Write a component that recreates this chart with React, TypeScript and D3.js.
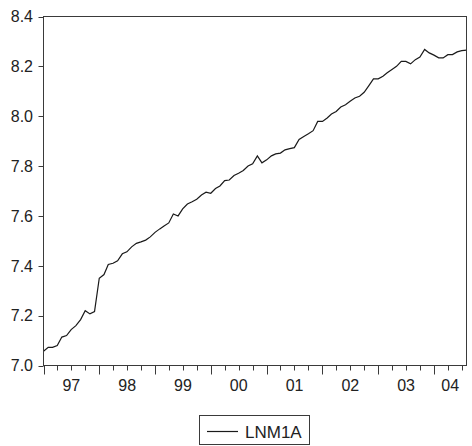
import React from "react";
import * as d3 from "d3";

const startYear = 1997;
const startMonth = 0;
const seriesName = "LNM1A";
const lnm1a = [
  7.057, 7.073, 7.073, 7.080, 7.114, 7.120, 7.144, 7.160, 7.184, 7.220, 7.207, 7.216,
  7.350, 7.365, 7.405, 7.410, 7.420, 7.448, 7.456, 7.476, 7.490, 7.496, 7.503, 7.516,
  7.534, 7.548, 7.560, 7.572, 7.608, 7.600, 7.628, 7.648, 7.657, 7.667, 7.684, 7.695,
  7.691, 7.710, 7.720, 7.742, 7.744, 7.762, 7.771, 7.782, 7.800, 7.809, 7.841, 7.813,
  7.825, 7.841, 7.849, 7.852, 7.865, 7.870, 7.874, 7.907, 7.919, 7.930, 7.942, 7.979,
  7.979, 7.993, 8.009, 8.019, 8.037, 8.046, 8.060, 8.073, 8.080, 8.096, 8.123, 8.150,
  8.150, 8.160, 8.174, 8.187, 8.200, 8.220, 8.220, 8.210, 8.227, 8.237, 8.268, 8.254,
  8.245, 8.234, 8.234, 8.247, 8.247, 8.258, 8.263, 8.265,
];
const yTicks = [7.0, 7.2, 7.4, 7.6, 7.8, 8.0, 8.2, 8.4];
const yearLabels = ["97", "98", "99", "00", "01", "02", "03", "04"];

const W = 472;
const H = 446;
const L = 43.5, R = 466.5, T = 16.5, B = 365.5;
const font = "'Liberation Sans', Arial, sans-serif";

export default function App() {
  const dates = lnm1a.map((_, i) => new Date(startYear, startMonth + i, 1));
  const x = d3.scaleTime().domain([dates[0], dates[dates.length - 1]]).range([L, R]);
  const y = d3.scaleLinear().domain([7.0, 8.4]).range([B, T]);
  const line = d3
    .line<number>()
    .x((_, i) => x(dates[i]))
    .y((d) => y(d));

  const end = dates[dates.length - 1];
  const quarters = d3.timeMonth.every(3)!.range(dates[0], d3.timeMonth.offset(end, 1));
  const years = d3.timeYear.range(dates[0], d3.timeMonth.offset(end, 1));

  return (
    <svg
      width={W}
      height={H}
      style={{ position: "absolute", left: 0, top: 0, background: "#fff" }}
      fontFamily={font}
    >
      <rect x={0} y={0} width={W} height={H} fill="#fff" />
      <path d={line(lnm1a) || ""} fill="none" stroke="#1a1a1a" strokeWidth={1.2} />
      <rect x={L} y={T} width={R - L} height={B - T} fill="none" stroke="#3a3a3a" strokeWidth={1} />
      {yTicks.map((t) => (
        <g key={t}>
          <line x1={L - 5} x2={L} y1={Math.round(y(t)) + 0.5} y2={Math.round(y(t)) + 0.5} stroke="#3a3a3a" />
          <text x={33} y={y(t)} dy="0.36em" textAnchor="end" fontSize={16} fill="#222">
            {t.toFixed(1)}
          </text>
        </g>
      ))}
      {quarters.map((q, i) => {
        const isYear = q.getMonth() === 0;
        const xx = Math.round(x(q)) + 0.5;
        return (
          <line key={i} x1={xx} x2={xx} y1={B} y2={B + (isYear ? 9 : 5)} stroke="#3a3a3a" />
        );
      })}
      {years.map((yr, i) => {
        const a = x(yr);
        const b = Math.min(R, x(new Date(yr.getFullYear() + 1, 0, 1)));
        return (
          <text key={i} x={(a + b) / 2} y={391} textAnchor="middle" fontSize={16} fill="#222">
            {yearLabels[i]}
          </text>
        );
      })}
      <rect x={199.5} y={415.5} width={110} height={29} fill="none" stroke="#3a3a3a" />
      <line x1={207} x2={238} y1={431.5} y2={431.5} stroke="#1a1a1a" strokeWidth={1.2} />
      <text x={245} y={432} dy="0.36em" fontSize={17} fill="#222">
        {seriesName}
      </text>
    </svg>
  );
}
